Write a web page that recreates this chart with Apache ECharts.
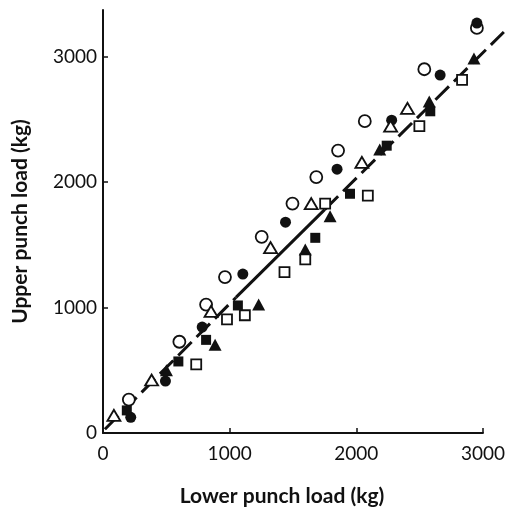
<!DOCTYPE html>
<html lang="en">
<head>
    <meta charset="UTF-8">
    <title>Upper vs lower punch load</title>
    <script src="https://cdn.jsdelivr.net/npm/echarts@6/dist/echarts.min.js"></script>
    <style>
        html, body { margin: 0; padding: 0; background: #fff; }
    </style>
</head>
<body>
<div id="chart" style="width:508px;height:512px;"></div>
<script>
    // [lower punch load, upper punch load] in kg
    var openCircles = [[204,266],[603,727],[814,1023],[963,1242],[1253,1563],[1496,1828],
        [1684,2039],[1856,2250],[2067,2484],[2537,2898],[2952,3227]];
    var filledCircles = [[219,125],[493,414],[783,844],[1104,1266],[1441,1680],[1848,2102],
        [2279,2492],[2662,2852],[2952,3266]];
    var openTriangles = [[86,141],[384,422],[853,969],[1323,1477],[1644,1828],[2044,2156],
        [2271,2445],[2404,2586]];
    var filledTriangles = [[501,500],[885,703],[1229,1023],[1597,1461],[1793,1727],[2185,2258],
        [2576,2641],[2929,2984]];
    var openSquares = [[736,547],[979,906],[1120,938],[1433,1281],[1597,1383],[1754,1828],
        [2091,1891],[2498,2445],[2835,2813]];
    var filledSquares = [[188,180],[595,570],[814,742],[1065,1016],[1676,1555],[1950,1906],
        [2240,2289],[2584,2563]];

    // fitted line, drawn dashed at the ends and solid in the middle
    var fitLow = [[15,30],[1050,1080]];
    var fitMid = [[1050,1080],[1750,1780]];
    var fitHigh = [[1750,1780],[3165,3195]];

    var tickValues = [0, 1000, 2000, 3000];

    var ink = '#111';
    var font = 'Lato, "Liberation Sans", sans-serif';

    function scatter(data, symbol, size, filled) {
        return {
            type: 'scatter',
            data: data,
            symbol: symbol,
            symbolSize: size,
            z: 3,
            itemStyle: filled
                ? { color: ink, opacity: 1 }
                : { color: '#fff', borderColor: ink, borderWidth: 1.8, opacity: 1 }
        };
    }

    // 'lines' series so the fit can run past the end of the x axis
    function fit(coords, dashed) {
        return {
            type: 'lines',
            coordinateSystem: 'cartesian2d',
            clip: false,
            z: 2,
            data: [{ coords: coords }],
            lineStyle: { color: ink, width: 3, opacity: 1, type: dashed ? [19, 7] : 'solid' }
        };
    }

    function plain(v) { return String(v); }

    var chart = echarts.init(document.getElementById('chart'));
    chart.setOption({
        animation: false,
        grid: { left: 103, right: 22, top: 10, bottom: 71 },
        xAxis: {
            type: 'value',
            min: 0, max: 3000,
            name: 'Lower punch load (kg)',
            nameLocation: 'middle',
            nameGap: 53,
            nameTextStyle: { fontFamily: font, fontWeight: 'bold', fontSize: 21, color: ink, padding: [0, 22, 0, 0] },
            axisLine: { lineStyle: { color: ink, width: 2 } },
            axisTick: { inside: true, length: 5, lineStyle: { color: ink, width: 1.5 }, customValues: tickValues.slice(1) },
            axisLabel: { fontFamily: font, fontSize: 19, color: ink, margin: 11, formatter: plain, customValues: tickValues },
            splitLine: { show: false }
        },
        yAxis: {
            type: 'value',
            min: 0, max: 3370,
            name: 'Upper punch load (kg)',
            nameLocation: 'middle',
            nameGap: 72,
            nameTextStyle: { fontFamily: font, fontWeight: 'bold', fontSize: 21, color: ink },
            axisLine: { lineStyle: { color: ink, width: 2 } },
            axisTick: { inside: true, length: 5, lineStyle: { color: ink, width: 1.5 }, customValues: tickValues.slice(1) },
            axisLabel: { fontFamily: font, fontSize: 19, color: ink, margin: 6, formatter: plain, customValues: tickValues },
            splitLine: { show: false }
        },
        series: [
            fit(fitLow, true),
            fit(fitMid, false),
            fit(fitHigh, true),
            scatter(openCircles, 'circle', 12, false),
            scatter(filledCircles, 'circle', 11, true),
            scatter(openTriangles, 'triangle', [13, 11], false),
            scatter(filledTriangles, 'triangle', [13, 12], true),
            scatter(openSquares, 'rect', 10, false),
            scatter(filledSquares, 'rect', 10, true)
        ]
    });
</script>
</body>
</html>
